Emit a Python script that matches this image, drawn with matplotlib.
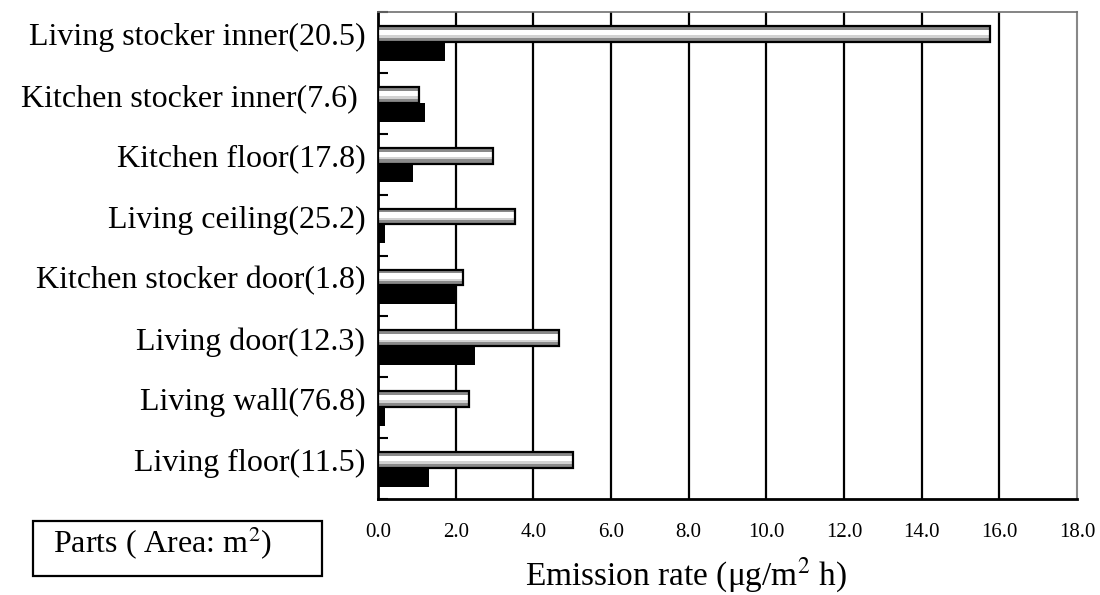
import matplotlib
matplotlib.use("Agg")
import matplotlib.pyplot as plt
import numpy as np
from matplotlib.patches import Rectangle

plt.rcParams['font.family'] = ['Liberation Serif', 'DejaVu Serif']
plt.rcParams['mathtext.fontset'] = 'stix'

# ---- data ----
categories = ["Living stocker inner(20.5)", "Kitchen stocker inner(7.6) ",
              "Kitchen floor(17.8)", "Living ceiling(25.2)",
              "Kitchen stocker door(1.8)", "Living door(12.3)",
              "Living wall(76.8)", "Living floor(11.5)"]
series_striped = [15.75, 1.05, 2.96, 3.52, 2.18, 4.67, 2.34, 5.01]
series_black = [1.73, 1.21, 0.89, 0.18, 1.99, 2.50, 0.18, 1.31]
x_ticks = [0, 2, 4, 6, 8, 10, 12, 14, 16, 18]
x_tick_labels = ["0.0", "2.0", "4.0", "6.0", "8.0", "10.0", "12.0", "14.0", "16.0", "18.0"]

fig = plt.figure(figsize=(11, 5.95), dpi=100)
ax = fig.add_axes([378 / 1100, 1 - 499 / 595, (1077 - 378) / 1100, (499 - 12) / 595])

pos = np.arange(len(categories))
h_w = 0.26
c_w = pos - 0.14
h_b = 0.31
c_b = pos + 0.145

# striped bars: bands from top to bottom (fractions of height) with colours
bands = [(0.00, 0.24, '#8a8a8a'), (0.24, 0.58, '#ffffff'),
         (0.58, 0.74, '#d2d2d2'), (0.74, 1.00, '#8a8a8a')]
top_w = c_w - h_w / 2
for f0, f1, col in bands:
    ax.barh(top_w + h_w * (f0 + f1) / 2, series_striped, height=h_w * (f1 - f0),
            left=0, color=col, edgecolor='none', zorder=3)
ax.barh(c_w, series_striped, height=h_w, left=0, fill=False,
        edgecolor='black', linewidth=1.6, zorder=4)

ax.barh(c_b, series_black, height=h_b, left=0, color='black',
        edgecolor='none', zorder=3)

ax.set_ylim(len(categories) - 0.5, -0.5)
ax.set_xlim(0, 18)

ax.set_yticks(c_w)
ax.set_yticklabels(categories, fontsize=23)
ax.set_yticks(np.arange(len(categories) + 1) - 0.5, minor=True)
ax.tick_params(axis='y', which='major', length=0, pad=9)
ax.tick_params(axis='y', which='minor', length=7, width=1.5, direction='in', color='black')

ax.set_xticks(x_ticks)
ax.set_xticklabels(x_tick_labels, fontsize=15)
ax.tick_params(axis='x', length=0, pad=17)
ax.xaxis.grid(True, color='black', linewidth=1.6, zorder=1)
ax.set_axisbelow(True)
gl = ax.get_xgridlines()
gl[0].set_visible(False)
gl[-1].set_visible(False)

ax.set_xlabel("Emission rate (μg/m$^2$ h)", fontsize=24)
ax.xaxis.set_label_coords((686 - 378) / 699, -0.116)

for s in ['left', 'bottom']:
    ax.spines[s].set_linewidth(2.0)
    ax.spines[s].set_color('black')
ax.spines['top'].set_linewidth(1.2)
ax.spines['top'].set_color('#707070')
ax.spines['right'].set_linewidth(1.5)
ax.spines['right'].set_color('#888888')

# legend-like box
fig.patches.append(Rectangle((33 / 1100, 1 - 576 / 595), (322 - 33) / 1100, (576 - 521) / 595,
                             transform=fig.transFigure, fill=False, edgecolor='black',
                             linewidth=1.6))
fig.text(53 / 1100, 1 - 553 / 595, "Parts ( Area: m$^2$)", fontsize=23,
         ha='left', va='baseline')

fig.savefig("out.png", dpi=100)
